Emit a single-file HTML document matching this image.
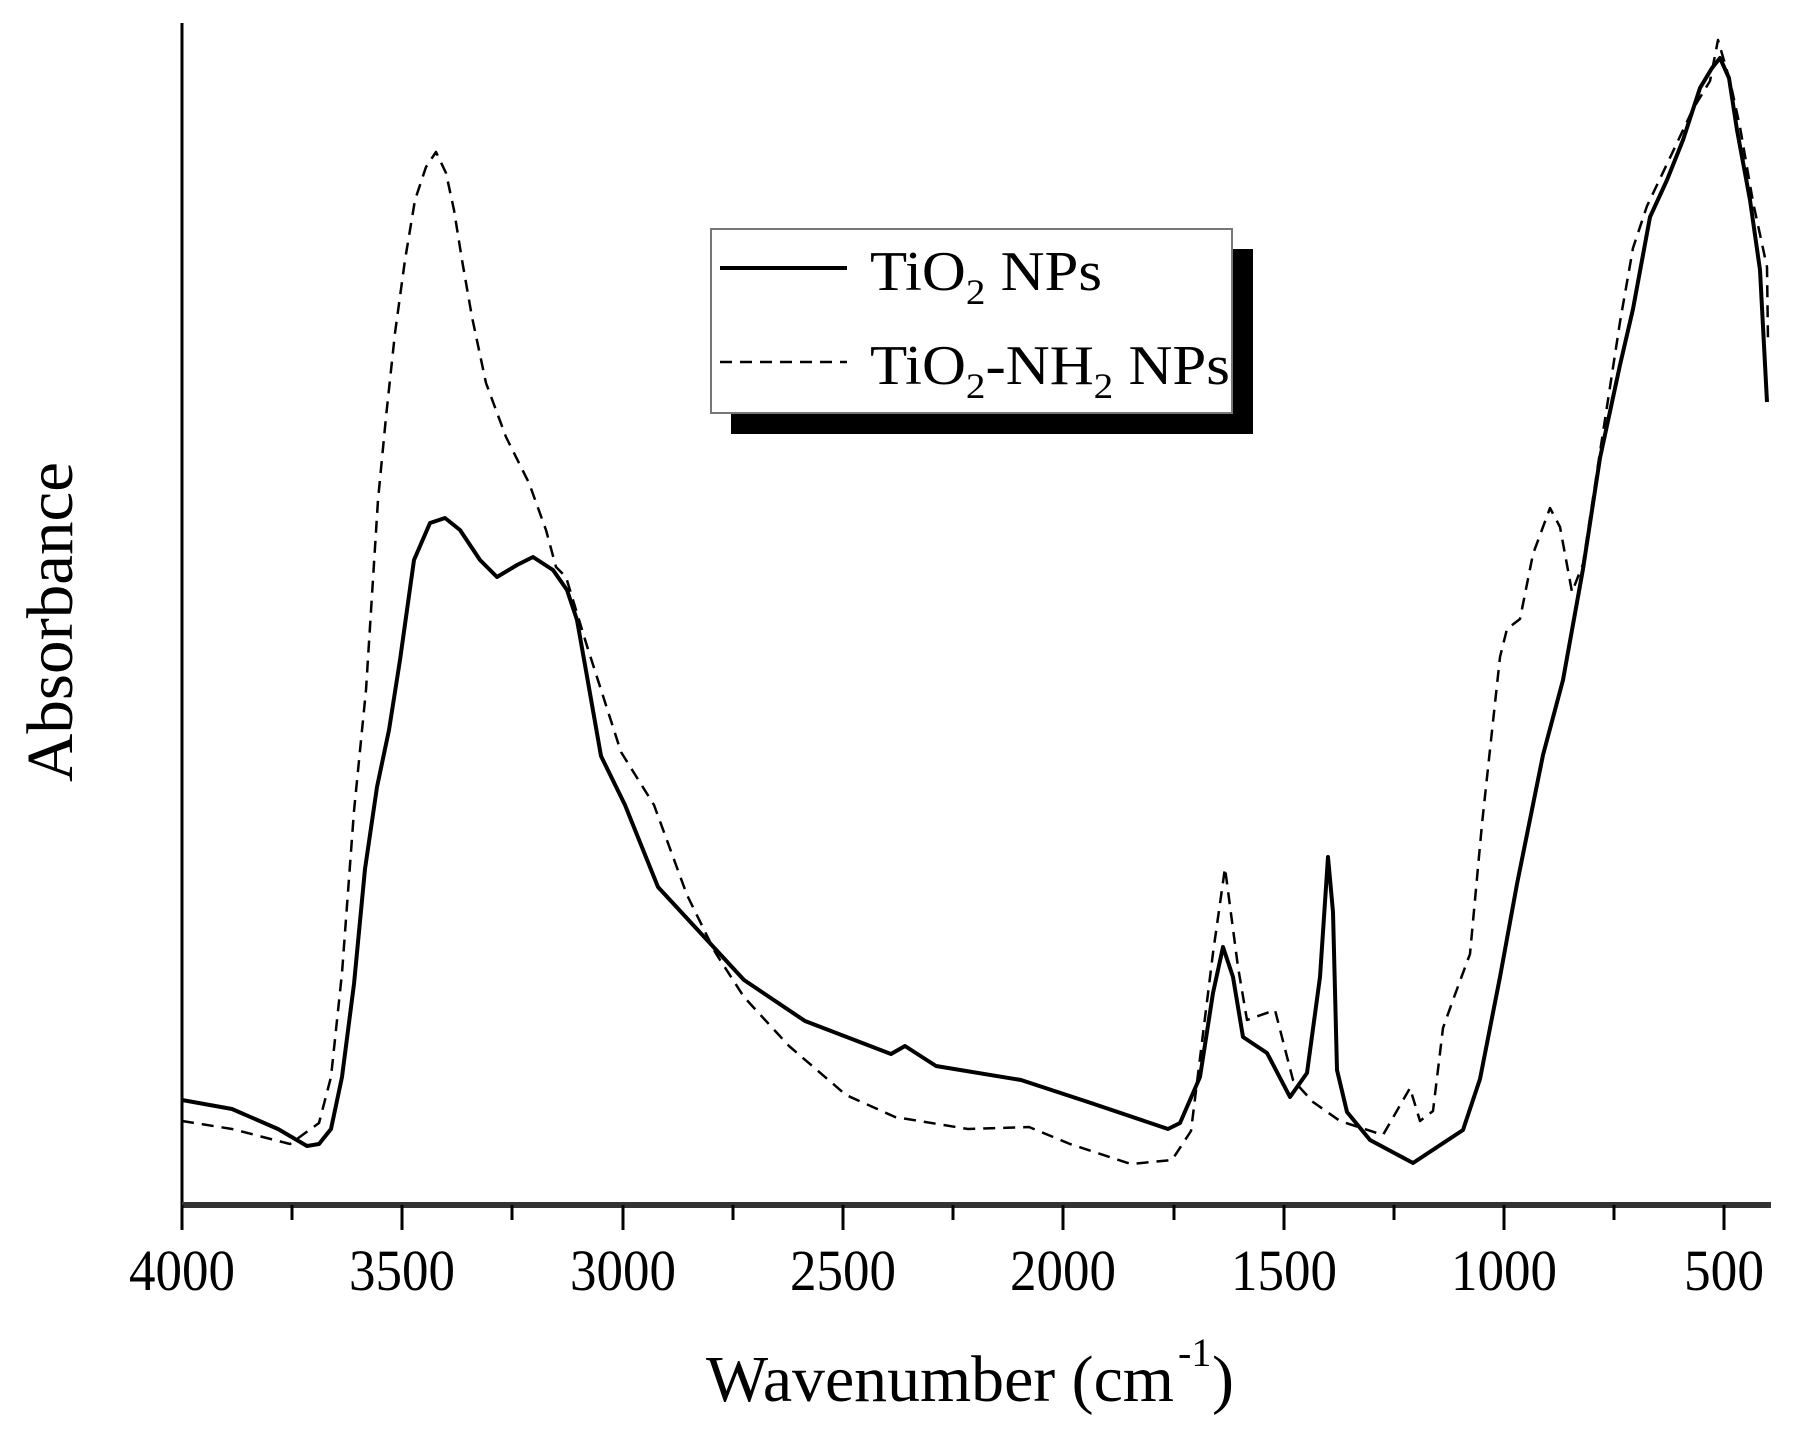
<!DOCTYPE html>
<html><head><meta charset="utf-8"><style>
html,body{margin:0;padding:0;background:#fff;}
svg{display:block;font-family:"Liberation Serif",serif;}
</style></head><body>
<svg width="1819" height="1444" viewBox="0 0 1819 1444" xmlns="http://www.w3.org/2000/svg">
<rect width="1819" height="1444" fill="#fff"/>
<!-- axes -->
<line x1="182" y1="23" x2="182" y2="1206" stroke="#000" stroke-width="3"/>
<line x1="182" y1="1205" x2="1771" y2="1205" stroke="#333" stroke-width="6"/>
<g stroke="#000" stroke-width="3">
<line x1="182" y1="1205" x2="182" y2="1230"/>
<line x1="402" y1="1205" x2="402" y2="1230"/>
<line x1="623" y1="1205" x2="623" y2="1230"/>
<line x1="843" y1="1205" x2="843" y2="1230"/>
<line x1="1063" y1="1205" x2="1063" y2="1230"/>
<line x1="1284" y1="1205" x2="1284" y2="1230"/>
<line x1="1504" y1="1205" x2="1504" y2="1230"/>
<line x1="1724" y1="1205" x2="1724" y2="1230"/>
<line x1="292" y1="1205" x2="292" y2="1220"/>
<line x1="512" y1="1205" x2="512" y2="1220"/>
<line x1="733" y1="1205" x2="733" y2="1220"/>
<line x1="953" y1="1205" x2="953" y2="1220"/>
<line x1="1174" y1="1205" x2="1174" y2="1220"/>
<line x1="1394" y1="1205" x2="1394" y2="1220"/>
<line x1="1614" y1="1205" x2="1614" y2="1220"/>
</g>
<g font-size="58" text-anchor="middle" fill="#000">
<text x="182" y="1290" textLength="106" lengthAdjust="spacingAndGlyphs">4000</text>
<text x="402" y="1290" textLength="106" lengthAdjust="spacingAndGlyphs">3500</text>
<text x="623" y="1290" textLength="106" lengthAdjust="spacingAndGlyphs">3000</text>
<text x="843" y="1290" textLength="106" lengthAdjust="spacingAndGlyphs">2500</text>
<text x="1063" y="1290" textLength="106" lengthAdjust="spacingAndGlyphs">2000</text>
<text x="1284" y="1290" textLength="106" lengthAdjust="spacingAndGlyphs">1500</text>
<text x="1504" y="1290" textLength="106" lengthAdjust="spacingAndGlyphs">1000</text>
<text x="1724" y="1290" textLength="80" lengthAdjust="spacingAndGlyphs">500</text>
</g>
<text x="706" y="1401" font-size="66" textLength="468" lengthAdjust="spacingAndGlyphs">Wavenumber (cm</text>
<text x="1178" y="1366" font-size="40">-1</text>
<text x="1212" y="1401" font-size="66">)</text>
<text transform="translate(72,622) rotate(-90)" font-size="66" text-anchor="middle" textLength="320" lengthAdjust="spacingAndGlyphs">Absorbance</text>

<!-- solid -->
<polyline fill="none" stroke="#000" stroke-width="4" stroke-linejoin="round" points="
182,1100 232,1109 278,1129 307,1146 319,1144 331,1129 342,1077 354,984 365,869 377,787 389,730 400,660 414,560 430,523 445,518 460,530 480,560 497,577 517,565 533,557 553,570 567,590 577,620 585,665 601,756 625,805 658,887 695,927 744,980 805,1021 891,1054 905,1046 936,1066 1021,1080 1091,1103 1168,1129 1180,1123 1200,1077 1213,993 1223,947 1233,977 1243,1037 1267,1053 1290,1097 1307,1073 1320,977 1328,857 1333,912 1337,1070 1347,1112 1370,1140 1413,1163 1463,1130 1480,1079 1500,977 1517,884 1543,755 1563,680 1583,569 1600,458 1620,365 1633,309 1650,217 1667,180 1683,140 1700,88 1712,68 1720,58 1729,78 1737,130 1750,200 1760,270 1767,402"/>
<!-- dashed -->
<polyline fill="none" stroke="#000" stroke-width="2.5" stroke-dasharray="12,8" stroke-linejoin="round" points="
182,1121 232,1129 290,1144 319,1123 331,1077 342,973 354,811 366,690 378,500 386,417 395,333 405,260 415,200 426,167 436,152 446,173 454,210 462,260 472,317 486,383 506,437 529,483 546,530 556,567 566,577 587,646 621,752 654,805 687,895 715,952 744,997 789,1046 846,1095 895,1117 968,1129 1029,1127 1070,1144 1131,1164 1172,1160 1191,1131 1213,953 1225,868 1238,967 1247,1020 1275,1010 1293,1080 1313,1102 1340,1121 1383,1135 1410,1088 1420,1121 1433,1111 1443,1028 1453,1000 1470,954 1482,824 1492,731 1500,657 1507,629 1520,619 1533,554 1550,508 1560,527 1572,592 1583,564 1600,452 1620,322 1633,248 1647,206 1667,164 1693,109 1710,81 1718,40 1730,81 1740,127 1753,202 1767,267 1768,341"/>

<!-- legend -->
<rect x="731" y="249" width="522" height="185" fill="#000"/>
<rect x="711" y="229" width="521" height="184" fill="#fff" stroke="#777" stroke-width="2"/>
<line x1="720" y1="268" x2="847" y2="268" stroke="#000" stroke-width="4"/>
<line x1="720" y1="362" x2="847" y2="362" stroke="#000" stroke-width="2.5" stroke-dasharray="12,8"/>
<text x="870" y="290" font-size="56" textLength="232" lengthAdjust="spacingAndGlyphs">TiO<tspan font-size="36" dy="14">2</tspan><tspan dy="-14"> NPs</tspan></text>
<text x="870" y="384" font-size="56" textLength="360" lengthAdjust="spacingAndGlyphs">TiO<tspan font-size="36" dy="14">2</tspan><tspan dy="-14">-NH</tspan><tspan font-size="36" dy="14">2</tspan><tspan dy="-14"> NPs</tspan></text>
</svg>
</body></html>
